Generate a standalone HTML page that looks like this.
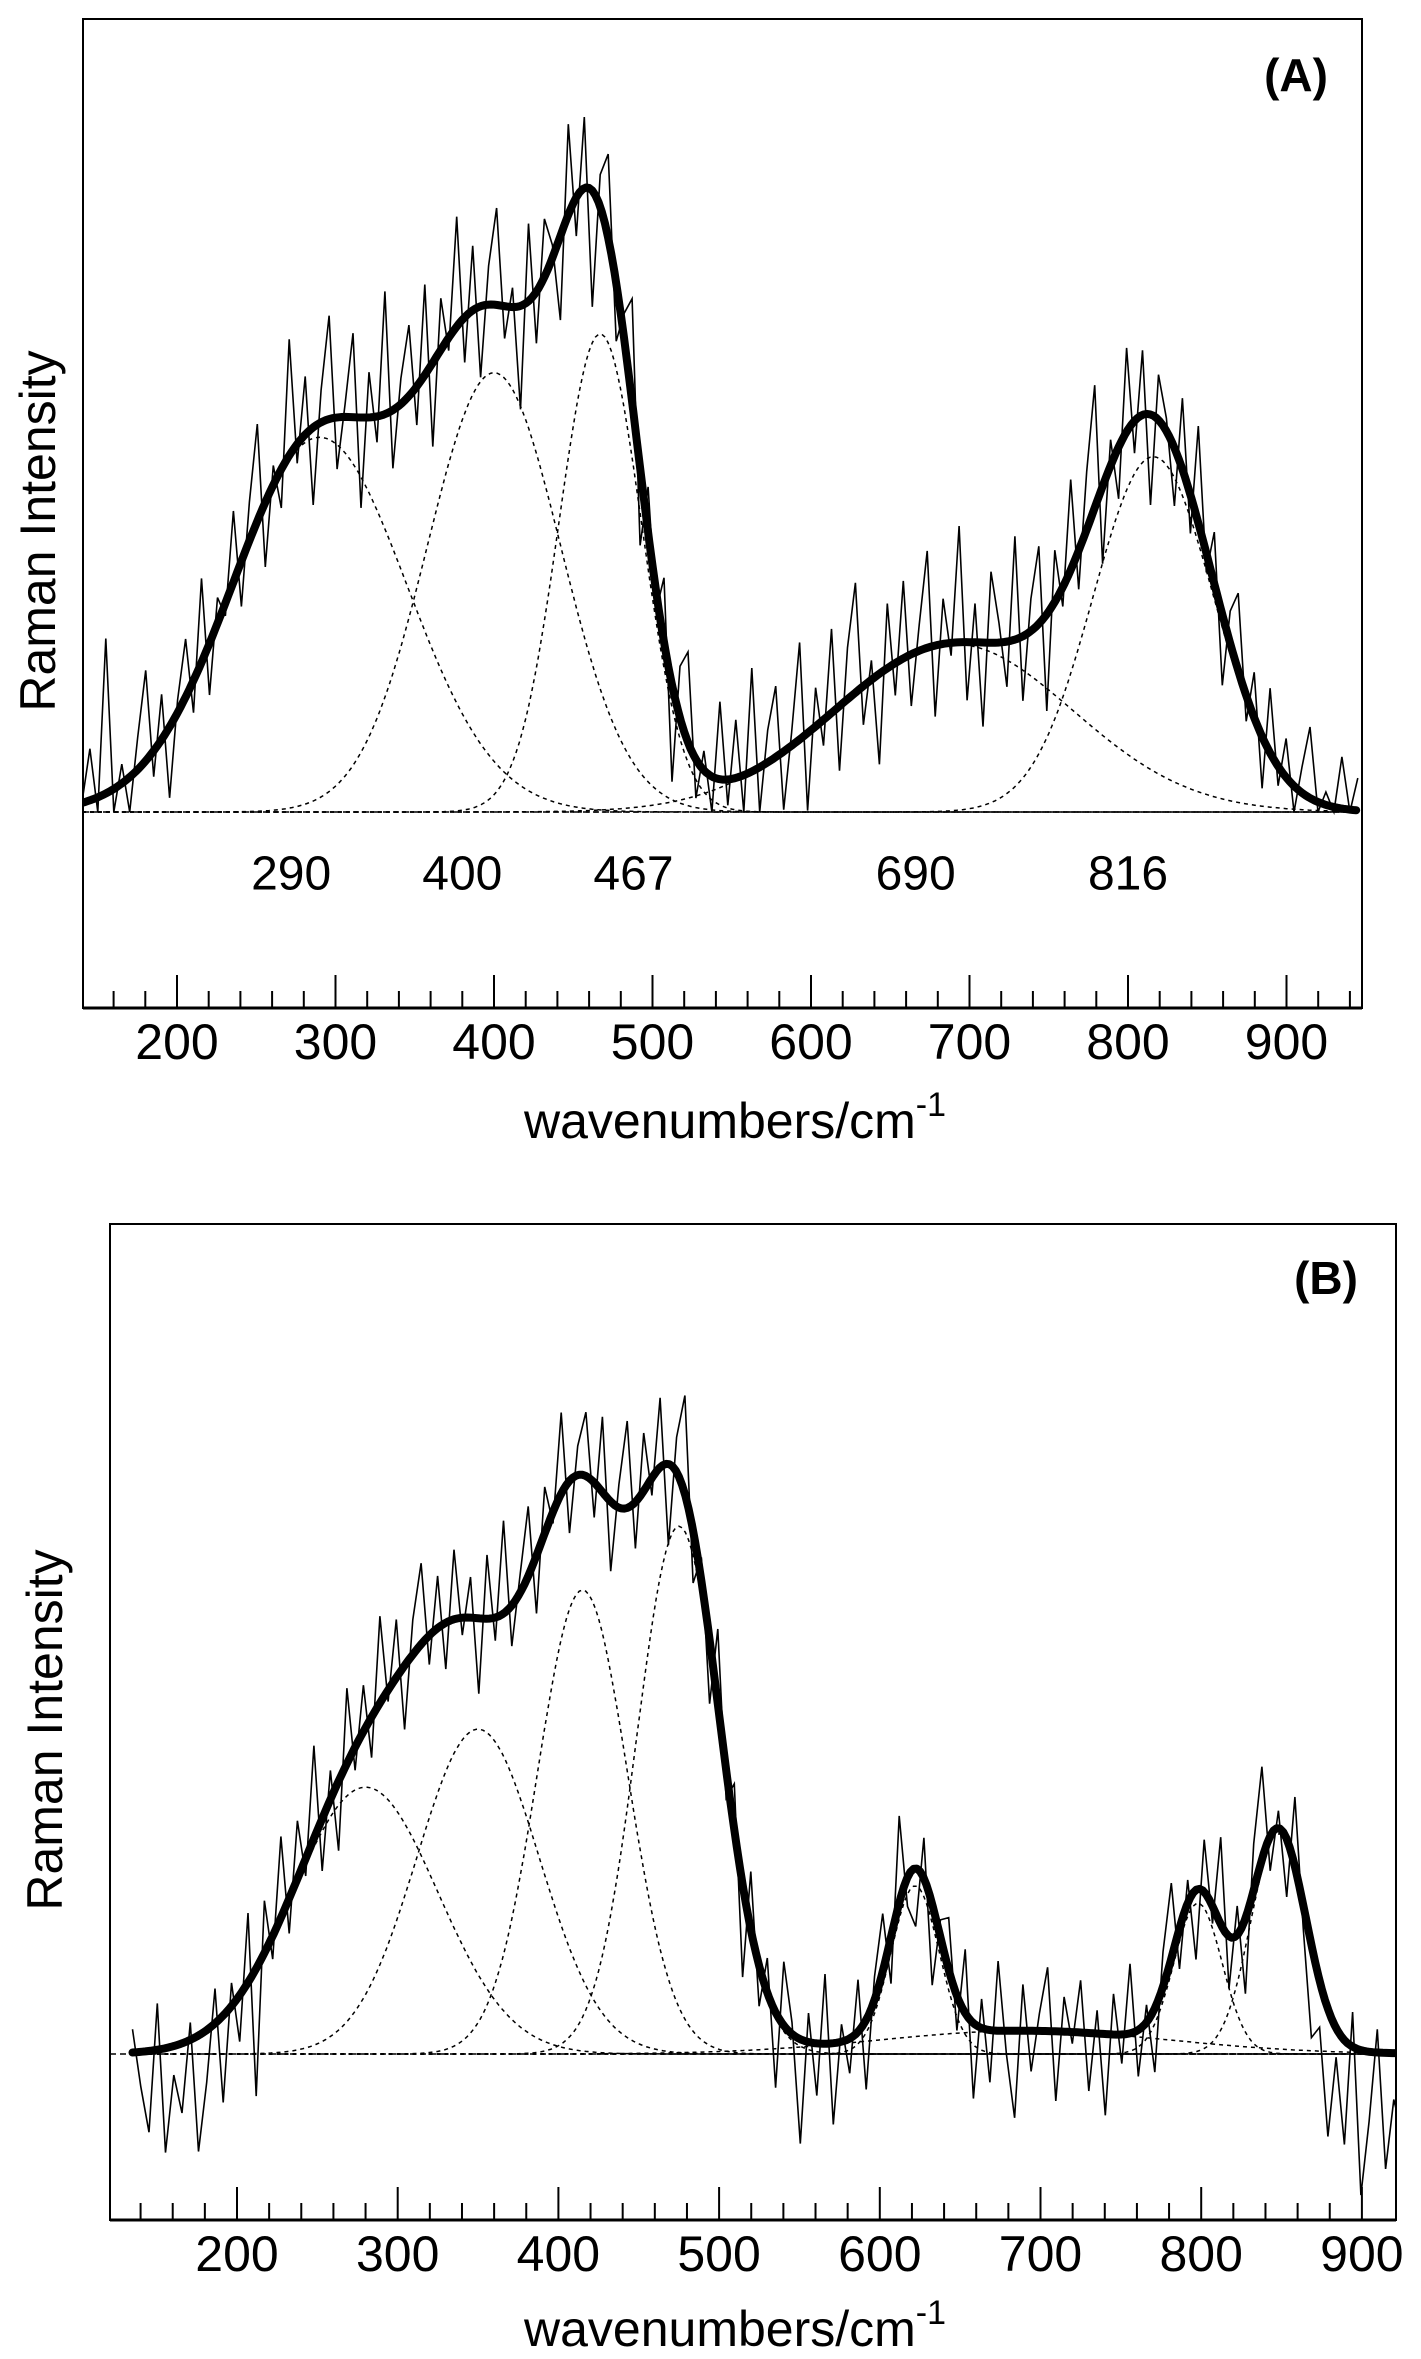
<!DOCTYPE html>
<html><head><meta charset="utf-8"><style>
html,body{margin:0;padding:0;background:#fff;}
svg{display:block;font-family:"Liberation Sans",sans-serif;}
</style></head><body>
<svg id="fig" width="1421" height="2359" viewBox="0 0 1421 2359"></svg>
<script>
// ---------- Panel A data ----------
const aPeakLabels = [290, 400, 467, 690, 816];
const aPeakLabelAt = [272, 380, 488, 666, 800];
const aCompCenters = [290, 400, 467, 690, 816];
const aCompHeights = [58, 68, 74, 26, 55];
const aCompWidths = [55, 42, 26, 75, 38];
const aRawStart = 140, aRawEnd = 945;
const aRawResidual = [0,8,-3,24,-6,3,-9,5,14,-4,7,-11,2,9,-5,13,-8,4,-2,11,-7,6,15,-10,3,-6,18,-3,9,-12,5,16,-8,2,13,-14,7,-4,19,-9,4,11,-6,14,-13,8,-2,17,-7,10,-11,6,15,-5,3,-16,12,-8,9,2,-13,14,-6,11,-18,5,13,-9,4,16,-12,7,-3,10,-15,8,14,-6,3,-11,12,-4,9,-13,16,-7,5,11,-9,2,15,-12,6,-4,13,-10,8,17,-6,3,-14,10,-5,12,-8,4,15,-11,7,-2,18,-9,6,-13,11,3,-7,16,-10,5,12,-15,8,-3,14,-6,9,19,-12,4,-8,13,-5,10,-14,7,2,-9,11,-6,15,-3,8,-11,5,12,-4,7,-8,10,-3,6,-9,4,11,-5,2,-7,8,-2,5];
const xTicksMajor = [200, 300, 400, 500, 600, 700, 800, 900];

// ---------- Panel B data ----------
const bCompCenters = [280, 350, 415, 475, 622, 798, 848, 690];
const bCompHeights = [46, 56, 80, 91, 29, 26, 38, 4];
const bCompWidths = [45, 38, 28, 26, 15, 15, 17, 90];
const bRawStart = 135, bRawEnd = 925;
const bRawResidual = [4,-6,-14,8,-18,-5,-12,3,-20,-9,6,-15,4,-8,12,-22,9,-4,14,-6,10,-3,16,-9,5,-12,13,-4,8,-7,15,-2,10,-11,6,14,-5,9,-8,12,-3,7,-13,11,-4,16,-7,3,12,-10,8,-2,14,-9,5,11,-6,13,-12,4,15,-8,10,-3,12,-14,6,17,-9,4,-11,13,-5,8,-16,10,-7,6,-13,11,2,-18,5,-9,12,-14,3,-6,9,-12,4,10,-8,15,-5,-10,7,-14,3,9,-6,11,-13,5,-9,12,-4,-15,8,-7,3,11,-12,6,-2,9,-10,4,-14,7,-5,12,-8,3,-11,6,13,-7,4,-12,9,-3,15,-9,5,-13,8,16,-6,3,-10,12,-4,-16,-8,-22,-5,-18,6,-25,-12,4,-20,-8,-14];

const svg = document.getElementById('fig');
const NS = 'http://www.w3.org/2000/svg';
function mk(tag, attrs, parent){
  const e = document.createElementNS(NS, tag);
  for (const k in attrs) e.setAttribute(k, attrs[k]);
  (parent||svg).appendChild(e);
  return e;
}
function gauss(v, c, h, w){ return h*Math.exp(-(v-c)*(v-c)/(2*w*w)); }
function fitVal(v, C, H, W){ let s=0; for(let i=0;i<C.length;i++) s+=gauss(v,C[i],H[i],W[i]); return s; }

function panel(p){
  const xs = v => p.x200 + (v-200)*p.pxPer;
  const ys = I => p.y0 - I*p.pyPer;
  const g = mk('g', {});
  
  
  const cp = mk('clipPath', {id: p.name+'-clip'}, g);
  mk('rect', {x:p.L, y:p.T, width:p.R-p.L, height:p.B-p.T}, cp);
  const plot = mk('g', {'clip-path':'url(#'+p.name+'-clip)'}, g);
  
  
  const bl = mk('line', {x1:p.L, x2:p.R, y1:ys(0), y2:ys(0), stroke:'#000', 'stroke-width':1.6, 'stroke-dasharray':'6 4'}, plot);
  
  
  for (let i=0;i<p.C.length;i++){
    let d='';
    for (let v=p.rs; v<=p.re; v+=2){ d += (d?'L':'M') + xs(v).toFixed(1)+','+ys(gauss(v,p.C[i],p.H[i],p.W[i])).toFixed(1); }
    const path = mk('path', {d:d, fill:'none', stroke:'#000', 'stroke-width':1.5, 'stroke-dasharray':'4 4'}, plot);
    
    
  }
  const n = p.res.length; let d='';
  for (let i=0;i<n;i++){
    const v = p.rs + i*(p.re-p.rs)/(n-1);
    let I = fitVal(v,p.C,p.H,p.W) + p.res[i];
    if (p.clip0 && I<0) I=0;
    d += (i?'L':'M') + xs(v).toFixed(1)+','+ys(I).toFixed(1);
  }
  const raw = mk('path', {d:d, fill:'none', stroke:'#000', 'stroke-width':1.6, 'stroke-linejoin':'miter'}, plot);
  
  
  d='';
  for (let v=p.rs; v<=p.re; v+=2){ d += (d?'L':'M') + xs(v).toFixed(1)+','+ys(fitVal(v,p.C,p.H,p.W)).toFixed(1); }
  const fit = mk('path', {d:d, fill:'none', stroke:'#000', 'stroke-width':8, 'stroke-linejoin':'round', 'stroke-linecap':'round'}, plot);
  
  
  const fr = mk('rect', {x:p.L, y:p.T, width:p.R-p.L, height:p.B-p.T, fill:'none', stroke:'#000', 'stroke-width':2}, g);
  
  
  const ax = mk('line', {x1:p.L, x2:p.R, y1:p.B, y2:p.B, stroke:'#000', 'stroke-width':3}, g);
  
  
  for (let v=140; v<=960; v+=20){
    const x = xs(v); if (x<p.L+2 || x>p.R-2) continue;
    const major = v%100===0;
    const t = mk('line', {x1:x, x2:x, y1:p.B, y2:p.B-(major?33:17), stroke:'#000', 'stroke-width':2}, g);
    
    
  }
  xTicksMajor.forEach(v=>{
    const t = mk('text', {x:xs(v), y:p.tickY, 'font-size':50, 'text-anchor':'middle', 'dominant-baseline':'central'}, g);
    t.textContent = v;
    
    
  });
  const xt = mk('text', {x:735, y:p.titleY, 'font-size':50, 'text-anchor':'middle', 'dominant-baseline':'central'}, g);
  xt.innerHTML = 'wavenumbers/cm<tspan font-size="34" dy="-16">-1</tspan>';
  
  
  const yt = mk('text', {x:0, y:0, 'font-size':50, 'text-anchor':'middle', 'dominant-baseline':'central', transform:'translate('+p.yTitleX+','+p.yTitleY+') rotate(-90)'}, g);
  yt.textContent = 'Raman Intensity';
  
  
  const lab = mk('text', {x:p.labX, y:p.labY, 'font-size':46, 'font-weight':'bold', 'text-anchor':'middle', 'dominant-baseline':'central'}, g);
  lab.textContent = p.label;
  
  
  return {xs, ys, g};
}

const A = panel({name:'panel-a', L:83, R:1362, T:19, B:1008, x200:177, pxPer:1.585, y0:812, pyPer:6.46,
  C:aCompCenters, H:aCompHeights, W:aCompWidths, rs:aRawStart, re:aRawEnd, res:aRawResidual, clip0:true,
  tickY:1042, titleY:1121, yTitleX:38, yTitleY:531, label:'(A)', labX:1296, labY:75});
aPeakLabels.forEach((v,i)=>{
  const t = mk('text', {x:A.xs(aPeakLabelAt[i]), y:874, 'font-size':48, 'text-anchor':'middle', 'dominant-baseline':'central'}, A.g);
  t.textContent = v;
  
  
});
panel({name:'panel-b', L:110, R:1396, T:1224, B:2220, x200:237, pxPer:1.607, y0:2054, pyPer:5.8,
  C:bCompCenters, H:bCompHeights, W:bCompWidths, rs:bRawStart, re:bRawEnd, res:bRawResidual, clip0:false,
  tickY:2254, titleY:2329, yTitleX:45, yTitleY:1730, label:'(B)', labX:1326, labY:1278});
</script>
</body></html>
